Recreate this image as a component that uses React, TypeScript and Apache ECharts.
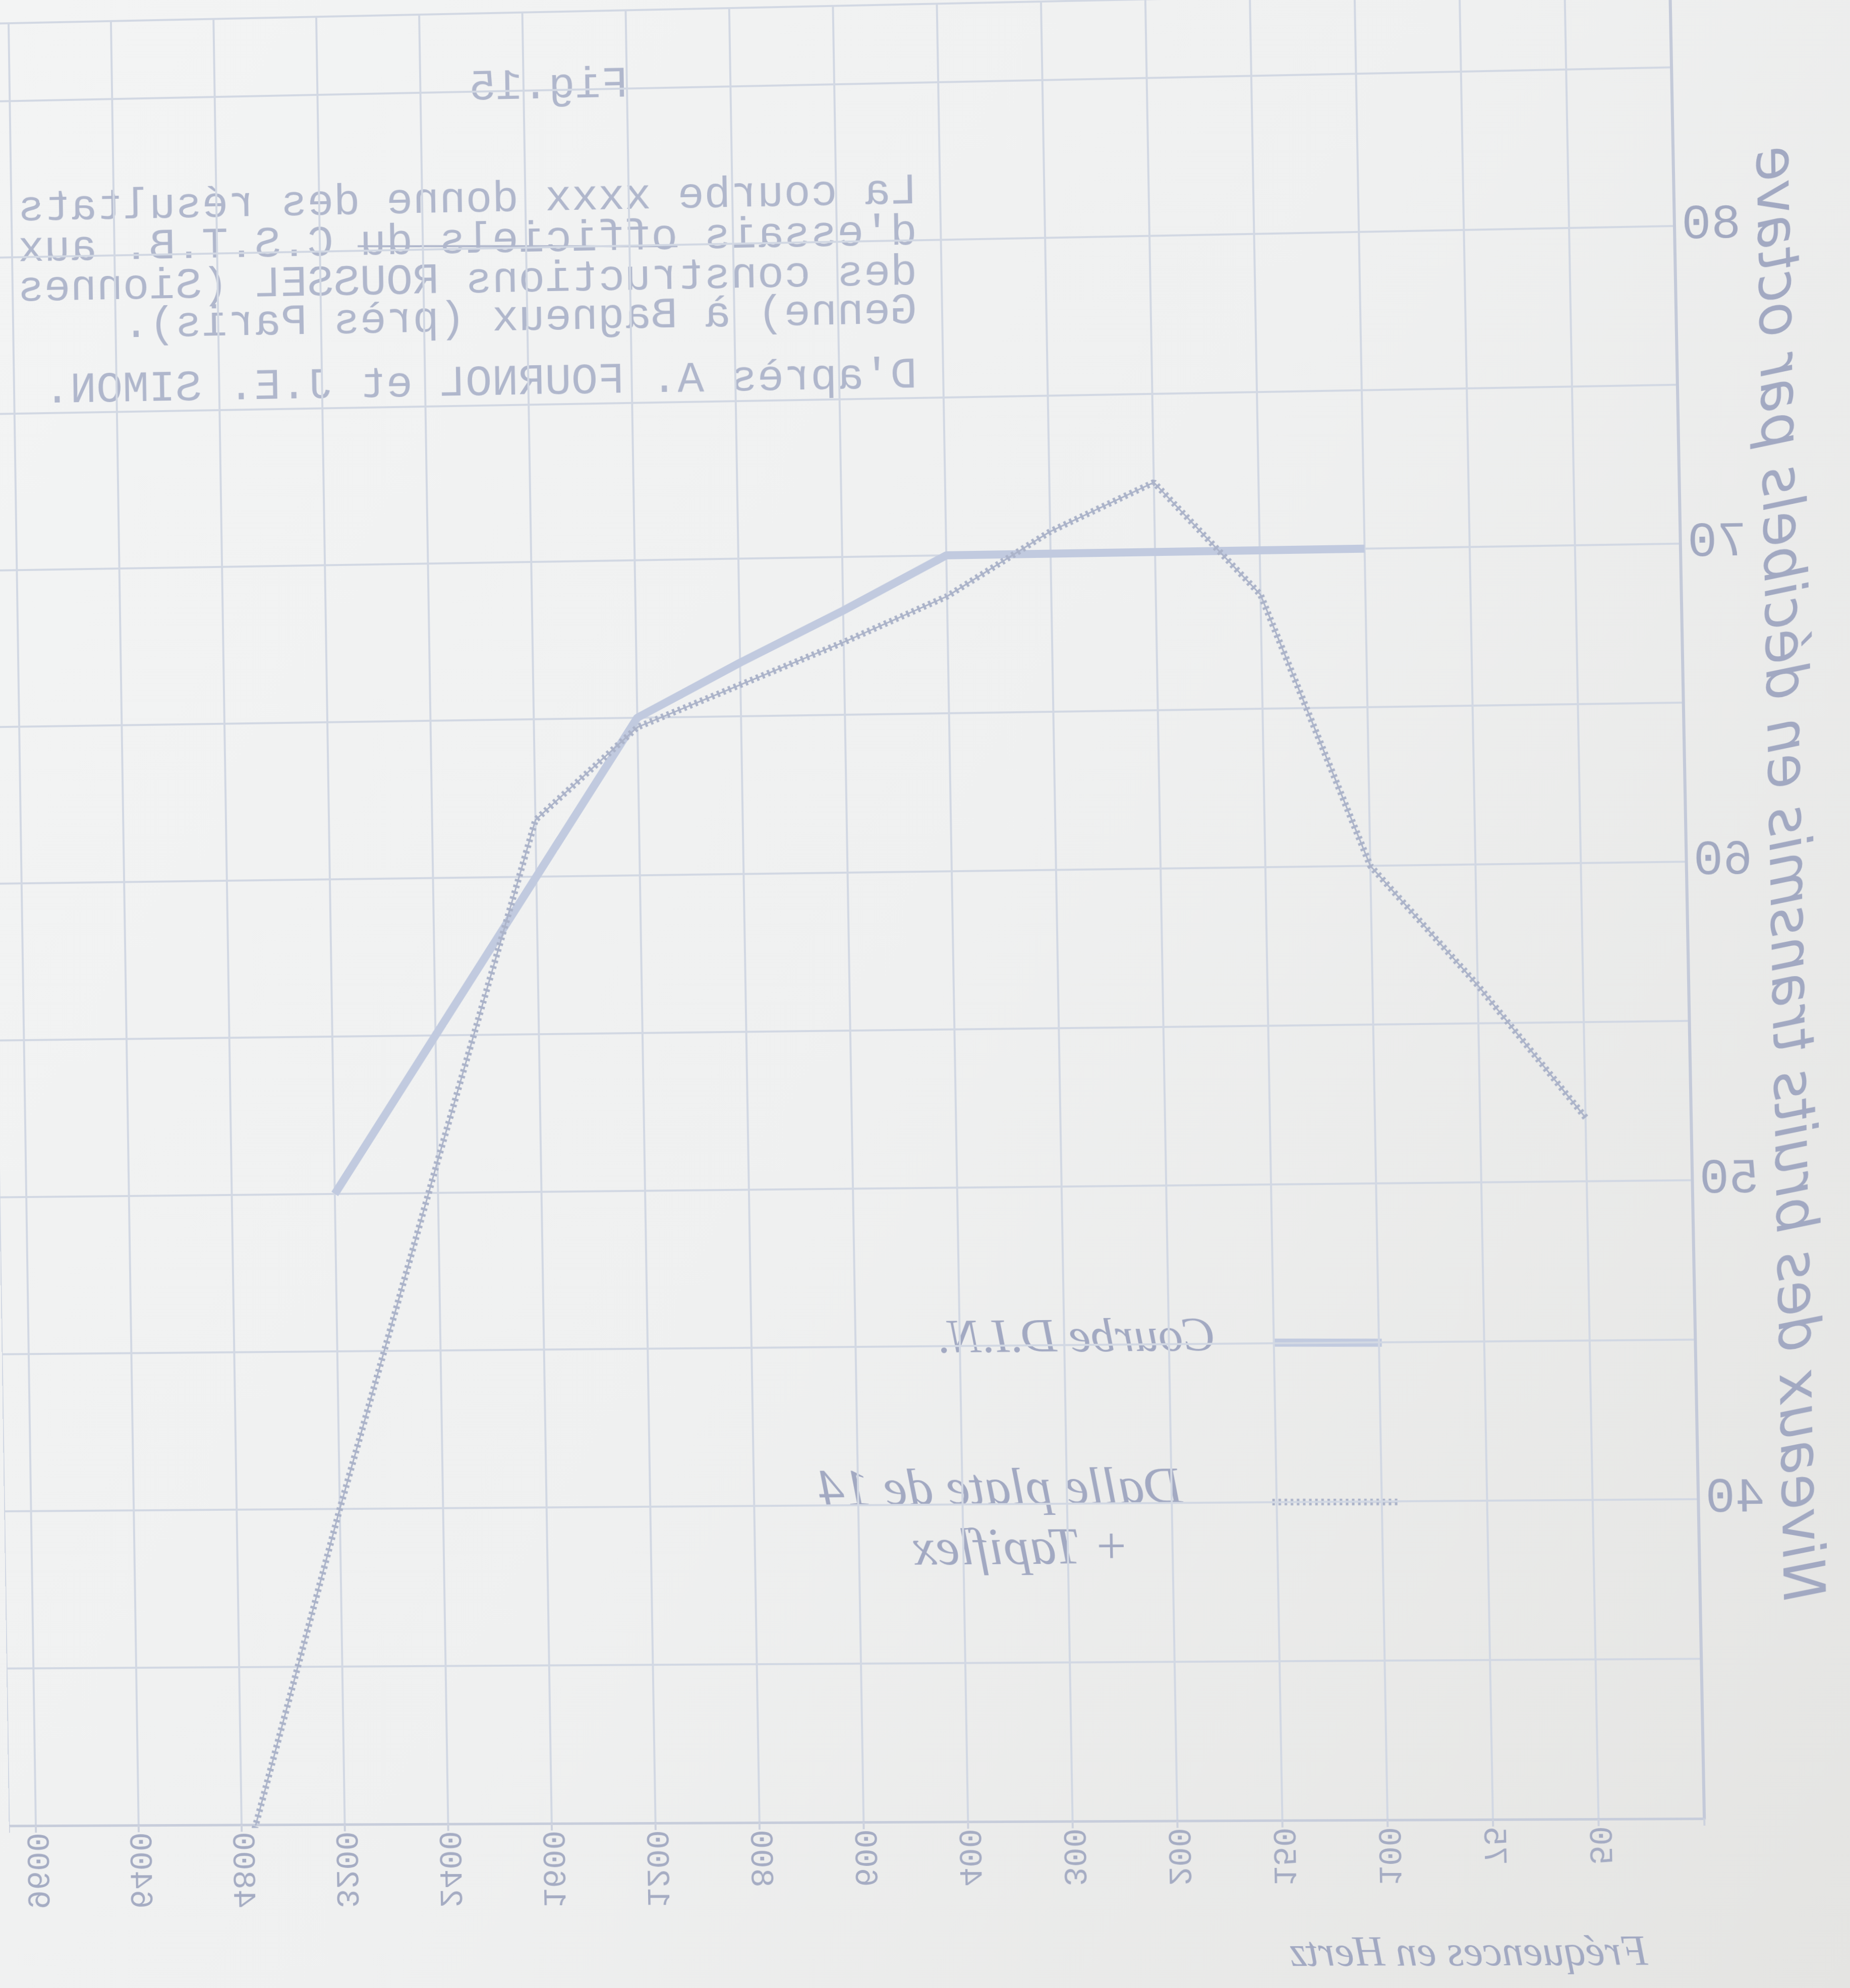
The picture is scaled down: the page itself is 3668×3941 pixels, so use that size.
import React, { useEffect, useRef } from "react";
import * as echarts from "echarts";

// ---- data (octave-band frequencies, dB per octave) ----
const FREQUENCIES = ["50", "75", "100", "150", "200", "300", "400", "600", "800", "1200", "1600", "2400", "3200", "4800", "6400", "9600"];
const DIN_CURVE = [null, null, 70, 70, 70, 70, 70, 68.3, 66.7, 65, 60, 55, 50, null, null, null];
const DALLE_CURVE = [52, 56.2, 60, 68.6, 72.2, 70.7, 68.7, 67.3, 66, 64.7, 61.8, 51, 40, 28.4, null, null];
const Y_LABELS = [40, 50, 60, 70, 80];

const FIG_TITLE = "Fig.15";
const NOTE_LINES = [
  "La courbe xxxx donne des résultats",
  "d'essais officiels du C.S.T.B. aux",
  "des constructions ROUSSEL (Sionnes",
  "Genne) à Bagneux (près Paris).",
  "D'après A. FOURNOL et J.E. SIMON.",
];
const Y_NAME = "Niveaux des bruits transmis en décibels par octave";
const X_NAME = "Fréquences en Hertz";
const LEGEND_DIN = "Courbe D.I.N.";
const LEGEND_DALLE_1 = "Dalle plate de 14";
const LEGEND_DALLE_2 = "+ Tapiflex";

const W = 3668;
const H = 3941;

// plot frame in the chart's own (undistorted) coordinates
const AXIS_X = 318;
const STEP = 206;
const Y80 = 478;
const PX_PER_DB = 63;
const Y30 = Y80 + 50 * PX_PER_DB;

// where the frame corners sit on the (mirrored, slightly warped) scanned sheet
const SRC = [
  [AXIS_X, Y80],
  [AXIS_X, Y30],
  [AXIS_X + 16 * STEP, Y30],
  [AXIS_X + 16 * STEP, Y80],
];
const DST = [
  [3320, 448],
  [3380, 3606],
  [71, 3619],
  [24, 510],
];

function solveHomography(src: number[][], dst: number[][]): number[] {
  const A: number[][] = [];
  const B: number[] = [];
  for (let i = 0; i < 4; i++) {
    const [x, y] = src[i];
    const [u, v] = dst[i];
    A.push([x, y, 1, 0, 0, 0, -u * x, -u * y]);
    B.push(u);
    A.push([0, 0, 0, x, y, 1, -v * x, -v * y]);
    B.push(v);
  }
  const n = 8;
  for (let col = 0; col < n; col++) {
    let piv = col;
    for (let r = col + 1; r < n; r++) if (Math.abs(A[r][col]) > Math.abs(A[piv][col])) piv = r;
    const tmp = A[col];
    A[col] = A[piv];
    A[piv] = tmp;
    const tb = B[col];
    B[col] = B[piv];
    B[piv] = tb;
    for (let r = 0; r < n; r++) {
      if (r === col) continue;
      const f = A[r][col] / A[col][col];
      for (let c = col; c < n; c++) A[r][c] -= f * A[col][c];
      B[r] -= f * B[col];
    }
  }
  return B.map((b, i) => b / A[i][i]);
}

const HM = solveHomography(SRC, DST);
const HINV = solveHomography(DST, SRC);
const toLocal = (px: number, py: number): [number, number] => {
  const [a, b, c, d, e, f, g, h] = HINV;
  const w = g * px + h * py + 1;
  return [(a * px + b * py + c) / w, (d * px + e * py + f) / w];
};
const MATRIX = (() => {
  const [a, b, c, d, e, f, g, h] = HM;
  return `matrix3d(${a},${d},0,${g},${b},${e},0,${h},0,0,1,0,${c},${f},0,1)`;
})();

const toPoints = (vals: (number | null)[]) =>
  FREQUENCIES.map((_, i) => (vals[i] == null ? null : [i + 1, vals[i] as number])).filter(
    (p) => p !== null
  ) as number[][];

export default function App() {
  const ref = useRef<HTMLDivElement>(null);

  useEffect(() => {
    document.body.style.margin = "0";
    if (!ref.current) return;
    const chart = echarts.init(ref.current, null, { renderer: "svg", width: W, height: H });

    const typeColor = "#b0b7cc";
    const handColor = "#a2a9c2";
    const gridColor = "#d2d8e3";
    const dinColor = "#c1cadf";
    const dalleColor = "#abb3c9";

    const textAt = (px: number, py: number, text: string, extra: any, rotation = 0) => {
      const [x, y] = toLocal(px, py);
      return { type: "text", x, y, rotation, style: { text, verticalAlign: "middle", ...extra } };
    };
    const lineAt = (p1: number[], p2: number[], style: any) => {
      const [x1, y1] = toLocal(p1[0], p1[1]);
      const [x2, y2] = toLocal(p2[0], p2[1]);
      return { type: "line", shape: { x1, y1, x2, y2 }, style };
    };

    const typed = { fontFamily: "Liberation Mono", fontSize: 88, fill: typeColor, align: "left" };
    const hand = { fontFamily: "Liberation Serif", fontStyle: "italic", fill: handColor, align: "left" };
    const noteY = [380, 461, 540, 617, 745];

    const graphic: any[] = [
      textAt(1245, 168, FIG_TITLE, typed),
      ...NOTE_LINES.map((t, i) => textAt(1818, noteY[i], t, typed)),
      lineAt([1343, 488], [709, 488], { stroke: typeColor, lineWidth: 4 }),
      textAt(3550, 1730, Y_NAME, { fontFamily: "DejaVu Sans", fontStyle: "italic", fontSize: 112, fill: handColor, align: "center" }, Math.PI / 2),
      textAt(3268, 3868, X_NAME, { ...hand, fontSize: 84 }),
      lineAt([2740, 2662], [2527, 2662], { stroke: dinColor, lineWidth: 16 }),
      textAt(2410, 2645, LEGEND_DIN, { ...hand, fontSize: 96 }),
      lineAt([2771, 2978], [2521, 2978], { stroke: dalleColor, lineWidth: 13, lineDash: [5, 7] }),
      lineAt([2771, 2978], [2521, 2978], { stroke: dalleColor, lineWidth: 3 }),
      textAt(2345, 2945, LEGEND_DALLE_1, { ...hand, fontSize: 104 }),
      textAt(2240, 3064, LEGEND_DALLE_2, { ...hand, fontSize: 104 }),
    ];

    const dallePts = toPoints(DALLE_CURVE);

    chart.setOption({
      animation: false,
      backgroundColor: "transparent",
      grid: { left: AXIS_X, right: 0, top: Y80 - 7.5 * PX_PER_DB, bottom: H - Y30, containLabel: false },
      xAxis: {
        type: "value",
        min: 0,
        max: (W - AXIS_X) / STEP,
        interval: 1,
        axisLine: { show: true, lineStyle: { color: "#c7cddb", width: 5 } },
        axisTick: { show: true, length: 14, lineStyle: { color: "#cdd2de", width: 4 } },
        axisLabel: {
          rotate: 90,
          margin: 14,
          fontFamily: "Liberation Mono",
          fontSize: 64,
          color: "#a5acc3",
          formatter: (v: number) =>
            Number.isInteger(v) && v >= 1 && v <= FREQUENCIES.length ? FREQUENCIES[v - 1] : "",
        },
        splitLine: { show: true, lineStyle: { color: gridColor, width: 4 } },
      },
      yAxis: {
        type: "value",
        position: "left",
        min: 30,
        max: 87.5,
        interval: 5,
        axisLine: { show: true, lineStyle: { color: "#c4cad9", width: 6 } },
        axisTick: { show: false },
        axisLabel: {
          margin: 14,
          fontFamily: "Liberation Mono",
          fontSize: 96,
          color: "#a2a9c1",
          formatter: (v: number) => (Y_LABELS.indexOf(v) >= 0 ? String(v) : ""),
        },
        splitLine: { show: true, lineStyle: { color: gridColor, width: 4 } },
      },
      series: [
        {
          name: LEGEND_DIN,
          type: "line",
          data: toPoints(DIN_CURVE),
          symbol: "none",
          lineStyle: { color: dinColor, width: 16 },
          z: 3,
        },
        {
          name: LEGEND_DALLE_1,
          type: "line",
          data: dallePts,
          symbol: "none",
          clip: true,
          lineStyle: { color: dalleColor, width: 13, type: [5, 7] },
          z: 4,
        },
        {
          name: LEGEND_DALLE_2,
          type: "line",
          data: dallePts,
          symbol: "none",
          clip: true,
          lineStyle: { color: dalleColor, width: 3 },
          z: 4,
        },
      ],
      graphic,
    });

    return () => chart.dispose();
  }, []);

  return (
    <div
      style={{
        position: "absolute",
        left: 0,
        top: 0,
        width: W,
        height: H,
        overflow: "hidden",
        background: "linear-gradient(120deg, #f3f4f4 0%, #eff0f0 50%, #e4e4e2 100%)",
      }}
    >
      <div
        ref={ref}
        style={{
          position: "absolute",
          left: 0,
          top: 0,
          width: W,
          height: H,
          transform: MATRIX,
          transformOrigin: "0 0",
        }}
      />
    </div>
  );
}
